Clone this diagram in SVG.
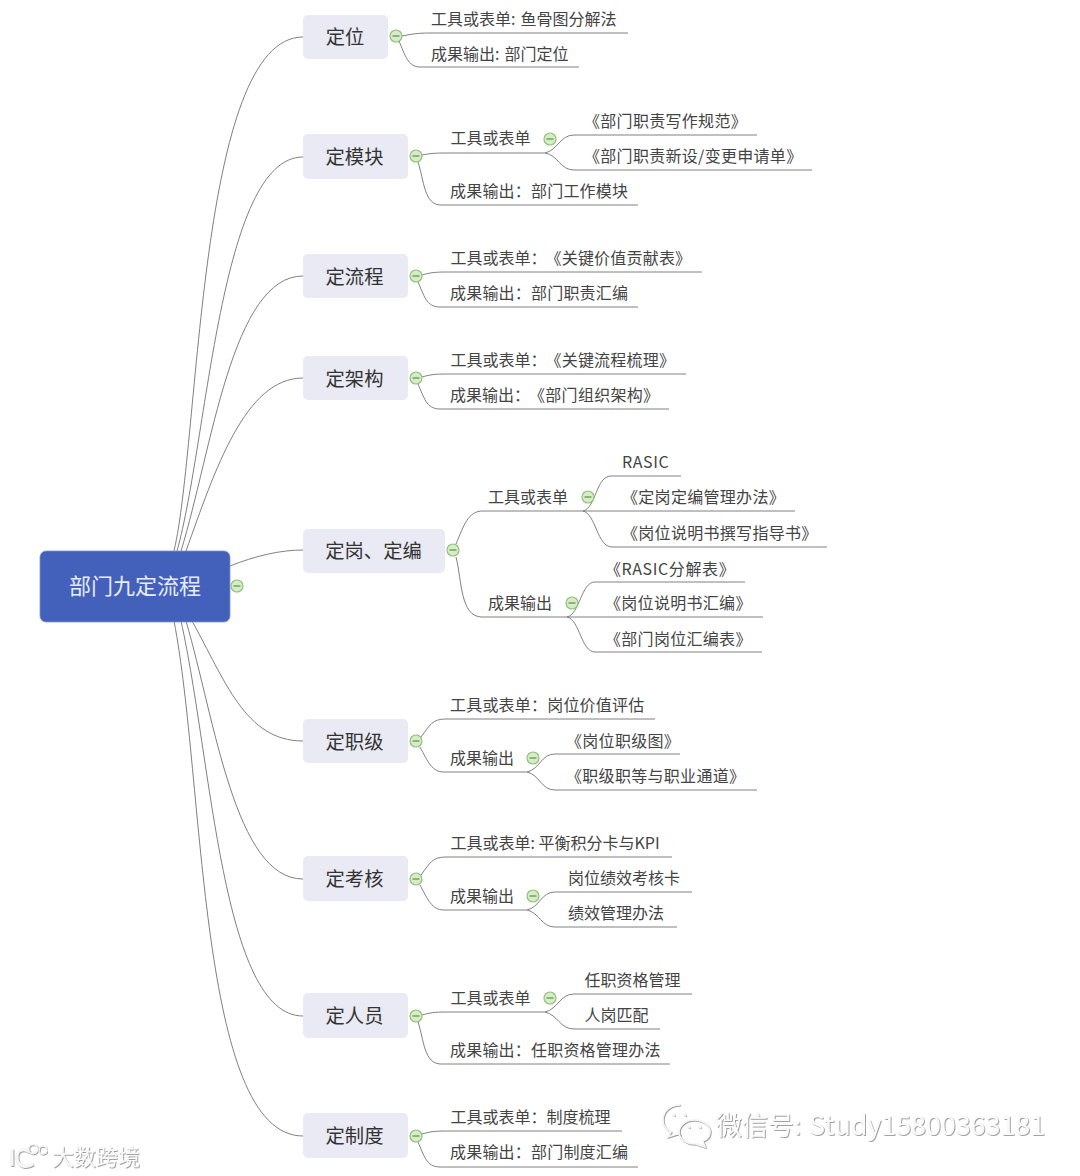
<svg xmlns="http://www.w3.org/2000/svg" width="1080" height="1176" viewBox="0 0 1080 1176">
<style>
text{font-family:"Noto Sans CJK SC","Noto Sans",sans-serif;white-space:pre}
.l{font-size:16px;fill:#444}
.w{letter-spacing:.2px}
.b{letter-spacing:.3px}
.m{font-size:19.3px;fill:#333;text-anchor:middle}
.r{font-size:22px;fill:#e8ecfa;text-anchor:middle}
.mb{fill:#e9eaf3}
.c path{fill:none;stroke:#808080;stroke-width:1}
.wm{fill:#fbfbfb;filter:url(#emb)}
.wi{fill:none;stroke:#f6f6f6;stroke-width:1.5;filter:url(#emb)}
.wt{stroke-width:3}
.k circle{fill:#d6ecc8;stroke:#8fc276;stroke-width:1.2}
.k path{stroke:#5d8f4a;stroke-width:1.2;fill:none}
</style>
<defs>
<filter id="emb" x="-10%" y="-30%" width="120%" height="160%"><feDropShadow dx="0.8" dy="0.8" stdDeviation="0.7" flood-color="#8a8a8a"/></filter>
<g id="col" class="k"><circle r="6"/><path d="M-3.5 0H3.5"/></g>
</defs>
<rect width="1080" height="1176" fill="#fff"/>

<g id="connectors" class="c">
<path d="M174 551C200 440 198 37 303 37"/>
<path d="M177 551C208 440 220 157 303 157"/>
<path d="M181 551C212 450 232 276 303 276"/>
<path d="M186 551C215 470 245 378 303 378"/>
<path d="M230 566C255 556 280 550 303 550"/>
<path d="M192 621C225 680 245 741 303 741"/>
<path d="M186 621C215 720 235 879 303 879"/>
<path d="M181 621C212 760 222 1016 303 1016"/>
<path d="M174 621C205 780 198 1136 303 1136"/>

<path d="M402 36C412 34 418 33 430 33H628"/>
<path d="M399 41C405 55 408 67 420 67H579"/>

<path d="M422 155C432 153 438 153 450 153H545"/>
<path d="M545 153C558 150 560 135 574 135H757"/>
<path d="M545 153C558 155 560 170 574 170H812"/>
<path d="M418 162C424 180 424 205 441 205H638"/>

<path d="M422 275C432 272 438 272 450 272H702"/>
<path d="M418 282C424 295 426 307 440 307H638"/>

<path d="M422 377C432 374 438 374 450 374H686"/>
<path d="M418 384C424 397 426 409 440 409H669"/>

<path d="M456 544C464 525 468 511 483 511H583"/>
<path d="M583 511C596 508 596 476 611 476H681"/>
<path d="M583 511H795"/>
<path d="M583 511C596 514 597 547 612 547H827"/>
<path d="M456 557C462 580 460 617 482 617H567"/>
<path d="M567 617C580 614 581 582 595 582H745"/>
<path d="M567 617H763"/>
<path d="M567 617C580 620 581 652 595 652H762"/>

<path d="M421 737C430 725 432 719 446 719H655"/>
<path d="M420 747C428 762 432 772 444 772H527"/>
<path d="M527 772C540 769 541 754 555 754H680"/>
<path d="M527 772C540 775 541 790 555 790H757"/>

<path d="M421 875C430 863 432 857 446 857H672"/>
<path d="M420 885C428 900 432 910 444 910H527"/>
<path d="M527 910C540 907 541 892 555 892H692"/>
<path d="M527 910C540 913 541 927 555 927H677"/>

<path d="M422 1015C432 1012 438 1012 450 1012H545"/>
<path d="M545 1012C558 1009 560 994 574 994H692"/>
<path d="M545 1012C558 1015 560 1029 574 1029H660"/>
<path d="M418 1022C424 1040 424 1064 441 1064H670"/>

<path d="M422 1134C432 1131 438 1131 450 1131H622"/>
<path d="M418 1142C424 1155 426 1167 440 1167H638"/>
</g>

<g id="root"><rect x="40" y="551" width="190" height="71" rx="6" fill="#4360bb" stroke="#7d93d6" stroke-width="0.8"/><text class="r" x="135" y="594">部门九定流程</text><use href="#col" x="237" y="586"/></g>

<g id="n1"><rect class="mb" x="303" y="15" width="85" height="44" rx="5"/><text class="m" x="345" y="44">定位</text><use href="#col" x="396" y="36"/></g>
<g id="n2"><rect class="mb" x="303" y="134" width="105" height="45" rx="5"/><text class="m" x="354.500" y="164">定模块</text><use href="#col" x="416" y="156"/></g>
<g id="n3"><rect class="mb" x="303" y="254" width="105" height="44" rx="5"/><text class="m" x="354.500" y="284">定流程</text><use href="#col" x="416" y="276"/></g>
<g id="n4"><rect class="mb" x="303" y="356" width="105" height="44" rx="5"/><text class="m" x="354.500" y="386">定架构</text><use href="#col" x="416" y="378"/></g>
<g id="n5"><rect class="mb" x="303" y="529" width="142" height="44" rx="5"/><text class="m" x="373.500" y="558">定岗、定编</text><use href="#col" x="453" y="550"/></g>
<g id="n6"><rect class="mb" x="303" y="719" width="105" height="44" rx="5"/><text class="m" x="354.500" y="749">定职级</text><use href="#col" x="416" y="741"/></g>
<g id="n7"><rect class="mb" x="303" y="856" width="105" height="45" rx="5"/><text class="m" x="354.500" y="886">定考核</text><use href="#col" x="416" y="879"/></g>
<g id="n8"><rect class="mb" x="303" y="993" width="105" height="45" rx="5"/><text class="m" x="354.500" y="1023">定人员</text><use href="#col" x="416" y="1016"/></g>
<g id="n9"><rect class="mb" x="303" y="1113" width="105" height="45" rx="5"/><text class="m" x="354.500" y="1143">定制度</text><use href="#col" x="416" y="1136"/></g>

<g id="leaf1a"><text class="l" x="431" y="25">工具或表单: <tspan dx="1.500">鱼骨图分解法</tspan></text></g>
<g id="leaf1b"><text class="l" x="431" y="60">成果输出: <tspan dx="1.500">部门定位</tspan></text></g>
<g id="leaf2a"><text class="l" x="450.500" y="144">工具或表单</text><use href="#col" x="550" y="139"/></g>
<g id="leaf2a1"><text class="l b" x="584" y="127">《部门职责写作规范》</text></g>
<g id="leaf2a2"><text class="l b" x="584" y="162">《部门职责新设/变更申请单》</text></g>
<g id="leaf2b"><text class="l w" x="450" y="197">成果输出：部门工作模块</text></g>
<g id="leaf3a"><text class="l" x="450.500" y="264">工具或表单：<tspan dx="7" class="w">《关键价值贡献表》</tspan></text></g>
<g id="leaf3b"><text class="l w" x="450" y="299">成果输出：部门职责汇编</text></g>
<g id="leaf4a"><text class="l" x="450.500" y="366">工具或表单：<tspan dx="7" class="w">《关键流程梳理》</tspan></text></g>
<g id="leaf4b"><text class="l" x="450" y="401">成果输出：<tspan dx="7" class="b">《部门组织架构》</tspan></text></g>
<g id="leaf5a"><text class="l" x="488" y="503">工具或表单</text><use href="#col" x="588" y="497"/></g>
<g id="leaf5a1"><text class="l" x="622" y="468" letter-spacing=".6">RASIC</text></g>
<g id="leaf5a2"><text class="l b" x="622" y="503">《定岗定编管理办法》</text></g>
<g id="leaf5a3"><text class="l b" x="622" y="539">《岗位说明书撰写指导书》</text></g>
<g id="leaf5b"><text class="l" x="488" y="609">成果输出</text><use href="#col" x="572" y="603"/></g>
<g id="leaf5b1"><text class="l" x="605" y="575" letter-spacing=".6">《RASIC分解表》</text></g>
<g id="leaf5b2"><text class="l b" x="605" y="609">《岗位说明书汇编》</text></g>
<g id="leaf5b3"><text class="l b" x="605" y="645">《部门岗位汇编表》</text></g>
<g id="leaf6a"><text class="l w" x="450" y="711">工具或表单：岗位价值评估</text></g>
<g id="leaf6b"><text class="l" x="450" y="764">成果输出</text><use href="#col" x="533" y="758"/></g>
<g id="leaf6b1"><text class="l b" x="566" y="747">《岗位职级图》</text></g>
<g id="leaf6b2"><text class="l b" x="566" y="782">《职级职等与职业通道》</text></g>
<g id="leaf7a"><text class="l" x="450.500" y="849">工具或表单: 平衡积分卡与KPI</text></g>
<g id="leaf7b"><text class="l" x="450" y="902">成果输出</text><use href="#col" x="533" y="896"/></g>
<g id="leaf7b1"><text class="l" x="568" y="884">岗位绩效考核卡</text></g>
<g id="leaf7b2"><text class="l" x="568" y="919">绩效管理办法</text></g>
<g id="leaf8a"><text class="l" x="450.500" y="1004">工具或表单</text><use href="#col" x="550" y="998"/></g>
<g id="leaf8a1"><text class="l" x="584.500" y="986">任职资格管理</text></g>
<g id="leaf8a2"><text class="l" x="584.500" y="1021">人岗匹配</text></g>
<g id="leaf8b"><text class="l w" x="450" y="1056">成果输出：任职资格管理办法</text></g>
<g id="leaf9a"><text class="l" x="450.500" y="1123">工具或表单：制度梳理</text></g>
<g id="leaf9b"><text class="l w" x="450" y="1158">成果输出：部门制度汇编</text></g>

<g id="watermark-left">
<path class="wi wt" d="M12 1149V1166M30 1152C22 1147 17 1151 17 1157C17 1166 26 1169 33 1164"/>
<circle class="wi" cx="33" cy="1149" r="4.500"/><circle class="wi" cx="43" cy="1150" r="4"/>
<text class="wm" x="52" y="1165" font-size="22">大数跨境</text>
</g>
<g id="watermark-right">
<path class="wi" d="M680 1105C669 1105 663 1112 663 1120C663 1126 667 1130 671 1132L668 1137L677 1134C679 1134 680 1135 681 1135"/>
<path class="wi" d="M694 1120C684 1120 679 1127 679 1132C679 1139 686 1144 696 1144L705 1147L703 1141C708 1139 710 1136 710 1132C710 1126 704 1120 694 1120Z"/>
<circle class="wi" cx="674" cy="1115" r="1"/><circle class="wi" cx="685" cy="1115" r="1"/><circle class="wi" cx="689" cy="1127" r="1"/><circle class="wi" cx="700" cy="1127" r="1"/>
<text class="wm" x="716" y="1135" font-size="26">微信号: <tspan dx="2" font-size="27" letter-spacing="-.1">Study15800363181</tspan></text>
</g>
</svg>
